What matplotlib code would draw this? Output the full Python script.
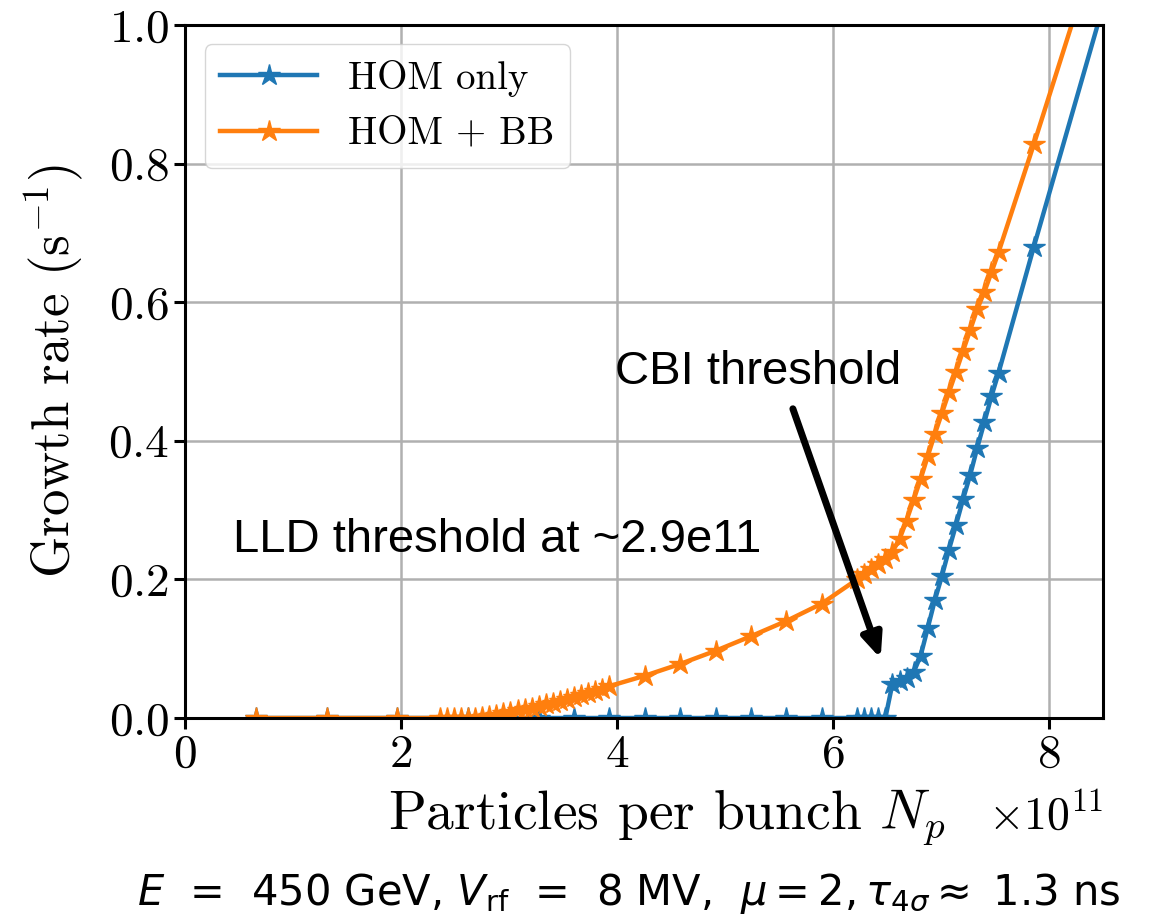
import numpy as np
import matplotlib
matplotlib.use('Agg')
import matplotlib.pyplot as plt
from matplotlib.ticker import MultipleLocator

plt.rcParams['font.family'] = ['cmr10', 'DejaVu Sans']
plt.rcParams['mathtext.fontset'] = 'cm'
plt.rcParams['axes.formatter.use_mathtext'] = True
plt.rcParams['axes.unicode_minus'] = False

# bunch intensity in units of 1e11, growth rate in 1/s
x_hom = [0.655, 1.31, 1.965, 2.62, 2.948, 3.275, 3.603, 3.93, 4.258, 4.585,
         4.913, 5.24, 5.568, 5.895,
         6.223, 6.288, 6.354, 6.419, 6.485, 6.55, 6.616, 6.681, 6.747, 6.812,
         6.878, 6.943, 7.009, 7.074, 7.14, 7.205, 7.271, 7.336, 7.402, 7.467,
         7.533, 7.86, 8.515]
y_hom = [0, 0, 0, 0, 0, 0, 0, 0, 0, 0,
         0, 0, 0, 0,
         0, 0, 0, 0, 0, 0.049, 0.053, 0.058, 0.066, 0.09,
         0.13, 0.17, 0.205, 0.243, 0.279, 0.316, 0.351, 0.39, 0.427, 0.464,
         0.498, 0.68, 1.035]

x_bb = [0.655, 1.31, 1.965,
        2.358, 2.424, 2.489, 2.555, 2.62, 2.686, 2.751, 2.817, 2.882, 2.948,
        3.013, 3.079, 3.144, 3.21, 3.275, 3.341, 3.406, 3.472, 3.537, 3.603,
        3.668, 3.734, 3.799, 3.865, 3.93,
        4.258, 4.585, 4.913, 5.24, 5.568, 5.895,
        6.223, 6.288, 6.354, 6.419, 6.485, 6.55, 6.616, 6.681, 6.747, 6.812,
        6.878, 6.943, 7.009, 7.074, 7.14, 7.205, 7.271, 7.336, 7.402, 7.467,
        7.533, 7.86, 8.515]
y_bb = [0, 0, 0,
        0, 0, 0, 0, 0, 0, 0.001, 0.003, 0.005, 0.007,
        0.009, 0.011, 0.013, 0.015, 0.018, 0.02, 0.022, 0.025, 0.027, 0.03,
        0.033, 0.036, 0.039, 0.042, 0.046,
        0.061, 0.078, 0.097, 0.118, 0.14, 0.165,
        0.2, 0.208, 0.215, 0.222, 0.23, 0.24, 0.258, 0.285, 0.315, 0.345,
        0.378, 0.41, 0.44, 0.47, 0.5, 0.53, 0.56, 0.59, 0.615, 0.643,
        0.672, 0.828, 1.15]

fig = plt.figure(figsize=(11.53, 9.23), dpi=100)
ax = fig.add_axes([0.1605, 0.2221, 0.7961, 0.7508])

ax.plot(np.array(x_hom) * 1e11, y_hom, '-*', color='#1f77b4', lw=3.2,
        markersize=16, label='HOM only')
ax.plot(np.array(x_bb) * 1e11, y_bb, '-*', color='#ff7f0e', lw=3.2,
        markersize=16, label='HOM + BB')

ax.set_xlim(0, 8.5e11)
ax.set_ylim(0, 1.0)
ax.xaxis.set_major_locator(MultipleLocator(2e11))
ax.yaxis.set_major_locator(MultipleLocator(0.2))
ax.grid(True, color='#b0b0b0', lw=1.8)
ax.set_axisbelow(True)
for s in ax.spines.values():
    s.set_linewidth(2.2)
ax.tick_params(labelsize=34, width=2.2, length=8)
ax.xaxis.get_offset_text().set_fontsize(33)
ax.xaxis.OFFSETTEXTPAD = 12

ax.set_xlabel(r'Particles per bunch $N_p$', fontsize=40, labelpad=10)
ax.xaxis.set_label_coords(0.525, -0.1)
ax.set_ylabel(r'Growth rate (s$^{-1}$)', fontsize=38, labelpad=16)

ax.legend(loc='upper left', fontsize=28, handlelength=2.5)

ax.text(0.44e11, 0.257, 'LLD threshold at ~2.9e11', fontsize=34,
        family='Liberation Sans', va='center')
ax.text(3.98e11, 0.5, 'CBI threshold', fontsize=34,
        family='Liberation Sans', va='center')
ax.annotate('', xy=(6.45e11, 0.082), xytext=(5.62e11, 0.45),
            arrowprops=dict(arrowstyle='-|>,head_length=1.4,head_width=0.6',
                            color='black', lw=5))

fig.text(0.545, 0.032,
         r'$E$  =  450 GeV, $V_\mathrm{rf}$  =  8 MV,  $\mu = 2, \tau_{4\sigma} \approx$ 1.3 ns',
         fontsize=30, family='DejaVu Sans', math_fontfamily='dejavusans',
         ha='center', va='center')

fig.savefig('out.png', dpi=100)
